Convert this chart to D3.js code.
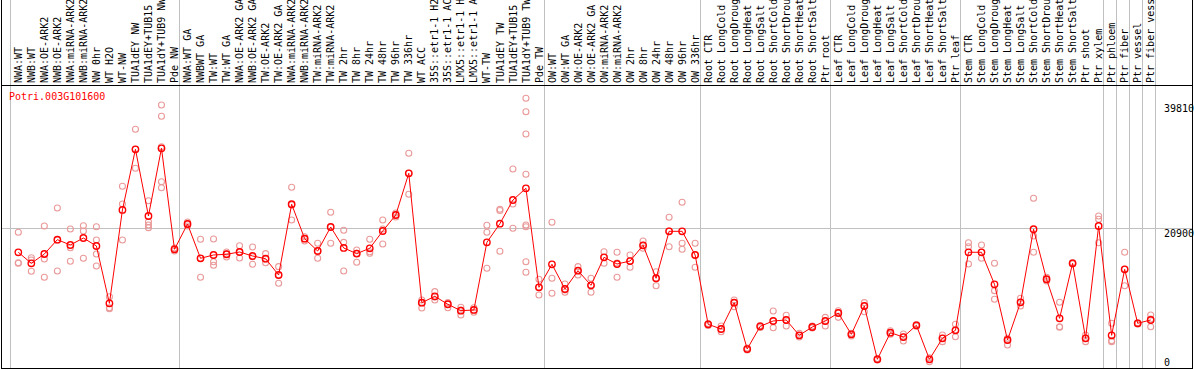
<!DOCTYPE html>
<html>
<head>
<meta charset="utf-8">
<script src="https://cdn.jsdelivr.net/npm/d3@7"></script>
<style>
  body { margin: 0; background: #ffffff; }
  svg { display: block; }
</style>
</head>
<body>
<div id="chart"></div>
<script>
// Gene shown in the plot
const geneId = "Potri.003G101600";

// Sample names, left to right
const categories = [
  "NWA:WT", "NWB:WT", "NWA:OE-ARK2", "NWB:OE-ARK2", "NWA:miRNA-ARK2", "NWB:miRNA-ARK2",
  "NW 0hr", "WT H2O", "WT-NW", "TUA1dEY NW", "TUA1dEY+TUB15 NW", "TUA1dY+TUB9 NW", "Pde NW",
  "NWA:WT GA", "NWBWT GA", "TW:WT", "TW:WT GA", "NWA:OE-ARK2 GA", "NWB:OE-ARK2 GA",
  "TW:OE-ARK2", "TW:OE-ARK2 GA", "NWA:miRNA-ARK2", "NWB:miRNA-ARK2", "TW:miRNA-ARK2",
  "TW:miRNA-ARK2", "TW 2hr", "TW 8hr", "TW 24hr", "TW 48hr", "TW 96hr", "TW 336hr", "WT ACC",
  "35S::etr1-1 H2O", "35S::etr1-1 ACC", "LMX5::etr1-1 H2O", "LMX5::etr1-1 ACC", "WT-TW",
  "TUA1dEY TW", "TUA1dEY+TUB15 TW", "TUA1dY+TUB9 TW", "Pde TW",
  "OW:WT", "OW:WT GA", "OW:OE-ARK2", "OW:OE-ARK2 GA", "OW:miRNA-ARK2", "OW:miRNA-ARK2",
  "OW 2hr", "OW 8hr", "OW 24hr", "OW 48hr", "OW 96hr", "OW 336hr",
  "Root CTR", "Root LongCold", "Root LongDrought", "Root LongHeat", "Root LongSalt",
  "Root ShortCold", "Root ShortDrought", "Root ShortHeat", "Root ShortSalt", "Ptr root",
  "Leaf CTR", "Leaf LongCold", "Leaf LongDrought", "Leaf LongHeat", "Leaf LongSalt",
  "Leaf ShortCold", "Leaf ShortDrought", "Leaf ShortHeat", "Leaf ShortSalt", "Ptr leaf",
  "Stem CTR", "Stem LongCold", "Stem LongDrought", "Stem LongHeat", "Stem LongSalt",
  "Stem ShortCold", "Stem ShortDrought", "Stem ShortHeat", "Stem ShortSalt", "Ptr shoot",
  "Ptr xylem", "Ptr phloem", "Ptr fiber", "Ptr vessel", "Ptr fiber vessel"
];

// How many samples sit in each experiment block
const groupSizes = [13, 28, 12, 10, 10, 11, 1, 1, 1, 1];

// Mean expression per sample
const means = [
  17300, 15640, 17040, 19200, 18400, 19450, 18250, 9600, 23680, 32830, 22770, 32980, 17750,
  21560, 16390, 16890, 17000, 17340, 16740, 16330, 13870, 24540, 19350, 17490, 21110, 17950,
  17090, 17900, 20510, 22920, 29210, 9700, 10660, 9460, 8490, 8600, 18800, 21610, 25180,
  26950, 12020,
  15490, 11760, 14520, 12320, 16540, 15530, 15980, 18350, 13380, 20460, 20460, 16890,
  6440, 5730, 9700, 2710, 6140, 6940, 7090, 4780, 6030, 6940,
  8140, 4930, 9200, 1160, 5170, 4520, 6290, 1160, 4330, 5530,
  17300, 17300, 12470, 4070, 9760, 20770, 13230, 7340, 15640, 4330, 21260,
  4780, 14730, 6590, 7090
];

// Individual replicate values per sample
const replicates = [
  [20310, 15730, 15640], [16480, 16140, 14430], [21260, 16290, 13530], [23980, 19150, 14480],
  [20810, 17990, 15940], [21310, 20510, 16390], [21160, 19150, 17040, 15230], [10600, 8940, 8790],
  [27250, 24580, 19150], [35850, 32830, 29960], [25080, 21910, 21410, 21010],
  [39510, 37810, 33220, 27940, 27040], [17950, 17790, 17490],
  [21870, 21560, 21260], [19260, 16390, 13530], [19300, 15880, 15340], [17340, 17040, 16590],
  [18290, 17340, 16440], [18100, 16630, 15490], [17090, 16290, 15730], [15130, 13870, 12620],
  [27100, 24430, 22170], [19650, 19350, 19000], [18650, 17490, 16390], [23330, 21110, 18650],
  [20610, 18800, 14480], [17640, 17150, 15790], [19260, 17390, 17150], [22170, 20810, 18550],
  [23220, 22920, 22620], [32230, 29210, 26040], [10100, 9700, 8900], [11360, 10560, 10100],
  [9700, 9460, 8940], [9000, 8600, 7840], [8940, 8600, 8250], [21370, 20310, 14880],
  [23780, 23600, 17450], [29860, 24580, 20920],
  [40520, 38500, 35140, 29060, 21410, 21160, 15880, 14280], [13230, 12020, 10860],
  [21820, 13380, 11110], [12520, 11610, 11270], [15130, 14520, 13870], [13380, 12320, 11270],
  [17390, 16540, 15640], [17300, 15680, 13530], [16890, 15990, 15040], [19000, 18350, 17900],
  [14370, 13380, 12260], [22580, 20510, 18140], [24840, 18650, 17750], [18650, 16890, 15040],
  [6560, 6440, 6260], [6180, 5730, 5320], [10100, 9700, 9090], [2870, 2710, 2560],
  [6260, 6140, 5960], [8450, 6940, 5930], [7800, 7090, 6180], [5080, 4780, 4520],
  [6180, 6030, 5880], [7490, 6940, 6180],
  [8490, 8140, 7490], [5080, 4930, 4670], [9700, 9200, 8340], [1280, 1160, 1060],
  [5470, 5170, 4930], [4980, 4520, 3920], [6410, 6290, 6140], [1400, 1160, 800],
  [4830, 4330, 3820], [6440, 5530, 4570],
  [18740, 18140, 15530], [18400, 17300, 16390], [15640, 11510, 10210], [4330, 4070, 3320],
  [10360, 9760, 9200], [25440, 19760, 17300], [13530, 13230, 12970], [9760, 6080, 5990],
  [15760, 15640, 15530], [4830, 4330, 3820], [22770, 22270, 18740],
  [6590, 3970, 3820], [17300, 14730, 12260], [6680, 6590, 6480], [7840, 7240, 6080]
];

// Labels on the right-hand scale
const tickValues = [0, 20900, 39810];

function renderChart(containerId) {
  const width = 1194;
  const height = 370;
  const plotTop = 85;
  const plotBottom = 369;
  const labelBase = 83;
  const font = "'DejaVu Sans Mono', monospace";

  const svg = d3
    .select("#" + containerId)
    .append("svg")
    .attr("width", width)
    .attr("height", height);

  svg.append("rect").attr("width", width).attr("height", height).attr("fill", "#ffffff");

  // One band per sample, shared by labels and markers
  const xScale = d3
    .scaleBand()
    .domain(d3.range(categories.length))
    .range([10, 1155.4]);
  const cx = (i) => xScale(i) + xScale.bandwidth() / 2 + 1.8;

  const yScale = d3.scaleLinear().domain([0, 39810]).range([367, 103]);

  // Block dividers
  const ends = d3.cumsum(groupSizes);
  const dividers = [xScale(0)].concat(
    Array.from(ends, (e) => (e < categories.length ? xScale(e) : xScale.range()[1]))
  );
  svg
    .selectAll(".divider")
    .data(dividers)
    .enter()
    .append("line")
    .attr("class", "divider")
    .attr("x1", (d) => Math.round(d) + 0.5)
    .attr("x2", (d) => Math.round(d) + 0.5)
    .attr("y1", 0)
    .attr("y2", plotBottom)
    .attr("stroke", "#c0c0c0")
    .attr("stroke-width", 1);

  // Middle grid line
  svg
    .append("line")
    .attr("x1", 1)
    .attr("x2", 1193)
    .attr("y1", Math.round(yScale(20900)) + 0.5)
    .attr("y2", Math.round(yScale(20900)) + 0.5)
    .attr("stroke", "#c0c0c0")
    .attr("stroke-width", 1);

  // Frame
  const frame = [
    [1.5, 0, 1.5, plotBottom],
    [1192.5, 0, 1192.5, plotBottom],
    [1, plotTop + 0.5, 1193, plotTop + 0.5],
    [1, plotBottom - 0.5, 1193, plotBottom - 0.5]
  ];
  svg
    .selectAll(".frame")
    .data(frame)
    .enter()
    .append("line")
    .attr("class", "frame")
    .attr("x1", (d) => d[0])
    .attr("y1", (d) => d[1])
    .attr("x2", (d) => d[2])
    .attr("y2", (d) => d[3])
    .attr("stroke", "#000000")
    .attr("stroke-width", 1);

  // Rotated sample names
  svg
    .selectAll(".cat-label")
    .data(categories)
    .enter()
    .append("text")
    .attr("class", "cat-label")
    .attr("transform", (d, i) => `translate(${cx(i)},${labelBase}) rotate(-90)`)
    .attr("dy", "0.36em")
    .attr("font-family", font)
    .attr("font-size", "10px")
    .attr("fill", "#000000")
    .text((d) => d);

  // Gene id
  svg
    .append("text")
    .attr("x", 9)
    .attr("y", 100)
    .attr("font-family", font)
    .attr("font-size", "10px")
    .attr("fill", "#ff0000")
    .text(geneId);

  // Right-hand scale labels
  svg
    .selectAll(".tick-label")
    .data(tickValues)
    .enter()
    .append("text")
    .attr("class", "tick-label")
    .attr("x", 1164)
    .attr("y", (d) => (d === 0 ? yScale(d) - 1 : yScale(d) + 8.5))
    .attr("font-family", font)
    .attr("font-size", "10px")
    .attr("fill", "#000000")
    .text((d) => d);

  // Replicates
  const repPoints = replicates.flatMap((reps, i) => reps.map((v) => ({ i, v })));
  svg
    .selectAll(".rep")
    .data(repPoints)
    .enter()
    .append("circle")
    .attr("class", "rep")
    .attr("cx", (d) => cx(d.i))
    .attr("cy", (d) => yScale(d.v))
    .attr("r", 3)
    .attr("fill", "none")
    .attr("stroke", "#ea9a9a")
    .attr("stroke-width", 1.1);

  // Mean line
  const line = d3
    .line()
    .x((d, i) => cx(i))
    .y((d) => yScale(d));
  svg
    .append("path")
    .datum(means)
    .attr("d", line)
    .attr("fill", "none")
    .attr("stroke", "#ff0000")
    .attr("stroke-width", 1);

  // Mean markers
  svg
    .selectAll(".mean")
    .data(means)
    .enter()
    .append("circle")
    .attr("class", "mean")
    .attr("cx", (d, i) => cx(i))
    .attr("cy", (d) => yScale(d))
    .attr("r", 3.2)
    .attr("fill", "none")
    .attr("stroke", "#ff0000")
    .attr("stroke-width", 1.4);
}

renderChart("chart");
</script>
</body>
</html>
